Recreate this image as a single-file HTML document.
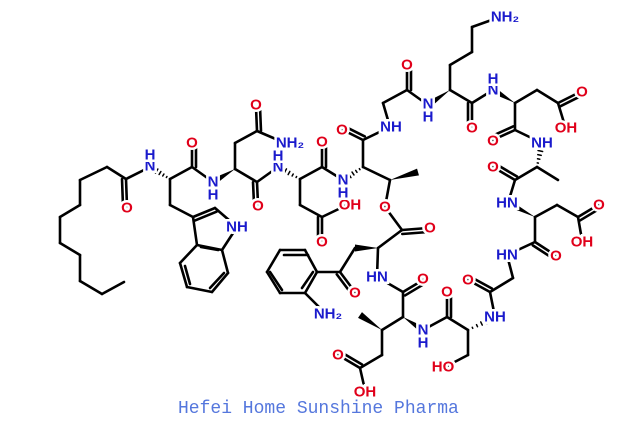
<!DOCTYPE html>
<html><head><meta charset="utf-8"><style>
html,body{margin:0;padding:0;background:#fff;width:641px;height:422px;overflow:hidden}
svg{display:block}
</style></head><body>
<svg id="s" width="641" height="422" viewBox="0 0 641 422" xmlns="http://www.w3.org/2000/svg">
<g id="b" stroke="#000" stroke-width="2.6" stroke-linecap="round" fill="none"></g>
<g id="l" font-family="Liberation Sans, sans-serif" font-weight="bold" font-size="15" text-anchor="middle" dominant-baseline="central" paint-order="stroke" stroke="#fff" stroke-width="5"></g>
<text x="178" y="413" font-family="Liberation Mono, monospace" font-size="18" fill="#5577dd">Hefei Home Sunshine Pharma</text>
</svg>
<script>
var B=document.getElementById('b'),L=document.getElementById('l'),NS='http://www.w3.org/2000/svg';
function ln(a,b,c,d){var e=document.createElementNS(NS,'line');e.setAttribute('x1',a);e.setAttribute('y1',b);e.setAttribute('x2',c);e.setAttribute('y2',d);B.appendChild(e);}
function s(p){for(var i=0;i<p.length-2;i+=2)ln(p[i],p[i+1],p[i+2],p[i+3]);}
function d(a,b,c,e){ln(a,b,c,e);var dx=c-a,dy=e-b,n=Math.hypot(dx,dy),ox=-dy/n*4,oy=dx/n*4;ln(a+ox,b+oy,c+ox,e+oy);}
function w(a,b,c,e){var dx=c-a,dy=e-b,n=Math.hypot(dx,dy),ox=-dy/n*3.5,oy=dx/n*3.5;var p=document.createElementNS(NS,'polygon');p.setAttribute('points',a+','+b+' '+(c+ox)+','+(e+oy)+' '+(c-ox)+','+(e-oy));p.setAttribute('fill','#000');p.setAttribute('stroke','none');B.appendChild(p);}
function h(a,b,c,e){var dx=c-a,dy=e-b,n=Math.hypot(dx,dy);for(var k=1;k<=5;k++){var t=k/6,ox=-dy/n*3.5*t,oy=dx/n*3.5*t,x=a+dx*t,y=b+dy*t;var el=document.createElementNS(NS,'line');el.setAttribute('x1',x+ox);el.setAttribute('y1',y+oy);el.setAttribute('x2',x-ox);el.setAttribute('y2',y-oy);el.setAttribute('stroke-width','1.5');B.appendChild(el);}}
function t(x,y,txt,c){var e=document.createElementNS(NS,'text');e.setAttribute('x',x);e.setAttribute('y',y);e.setAttribute('fill',c=='b'?'#1a1acc':'#e0001a');e.textContent=txt;L.appendChild(e);}
// decanoyl chain
s([124,282,102,294,80,281,80,255,60,243,60,217,80,205,80,180,107,167,126,179,150,167]);
d(126,179,127,206);
h(170,179,150,167);
s([170,179,192,167,213,182]);d(192,167,192,145);
// Trp side chain
s([170,179,170,205,193,217]);d(193,217,215,208);
s([215,208,237,227,222,250,197,245,193,217]);
s([197,245,180,263,187,287,212,292,228,273,222,250]);
ln(185,266,190,284);ln(210,288,224,273);ln(201,247,218,250);
// Asn
w(235,169,213,182);s([235,169,235,143,257,131,285,143]);d(257,131,256,107);
s([235,169,257,182,278,167]);d(257,182,258,204);
// Asp
h(300,179,278,167);s([300,179,322,167,343,180]);d(322,167,322,144);
s([300,179,300,205,322,217,347,205]);d(322,217,322,240);
// Thr
h(363,167,343,180);s([363,167,363,140,390,127,383,103,407,90,428,105]);
d(363,140,343,130);d(407,90,407,67);
s([363,167,390,180,385,207,402,230]);w(390,180,418,172);
d(402,230,428,228);
// Orn
w(450,90,428,105);s([450,90,450,65,472,52,472,27,500,17]);
s([450,90,472,103,493,90]);d(472,103,472,126);
// Asp2
w(515,103,493,90);s([515,103,537,90,558,103,565,126]);d(558,103,580,92);
s([515,103,515,130,542,143]);d(515,130,493,140);
// Ala
h(537,167,542,143);s([537,167,558,180]);s([537,167,515,180,508,203]);d(515,180,493,167);
// Asp3
w(535,217,508,203);s([535,217,557,205,578,217,582,240]);d(578,217,598,205);
s([535,217,535,242,507,255]);d(535,242,555,255);
// Gly
s([507,255,513,278,490,292,495,317]);d(490,292,468,280);
// Ser
h(468,330,495,317);s([468,330,468,355,445,367]);s([468,330,447,317,423,330]);d(447,317,447,294);
// MeGlu
w(403,317,423,330);s([403,317,382,330,382,355,360,368,365,390]);d(360,368,338,355);
w(382,330,360,315);s([403,317,403,292,377,277]);d(403,292,423,280);
// Kyn
s([377,277,378,248,402,230]);w(378,248,355,248);s([355,248,340,272,317,272]);d(340,272,355,292);
s([317,272,305,250,280,250,267,272,280,293,305,293,317,272]);
ln(308,255,284,255);ln(270,272,282,290);ln(302,288,313,272);
s([305,293,325,313]);
// labels
t(150,166,'N','b');t(150,155,'H','b');t(127,208,'O','r');
t(192,143,'O','r');t(213,182,'N','b');t(213,195,'H','b');
t(237,227,'NH','b');t(256,105,'O','r');t(290,143,'NH\u2082','b');
t(258,206,'O','r');t(278,167,'N','b');t(278,156,'H','b');
t(322,142,'O','r');t(322,242,'O','r');t(350,205,'OH','r');
t(343,180,'N','b');t(343,193,'H','b');t(342,130,'O','r');t(391,127,'NH','b');
t(407,65,'O','r');t(428,104,'N','b');t(428,117,'H','b');t(385,207,'O','r');t(430,228,'O','r');
t(505,17,'NH\u2082','b');t(472,128,'O','r');t(493,90,'N','b');t(493,79,'H','b');
t(582,92,'O','r');t(566,128,'OH','r');t(493,141,'O','r');t(542,143,'NH','b');
t(493,167,'O','r');t(507,203,'HN','b');t(599,205,'O','r');t(582,242,'OH','r');
t(507,255,'HN','b');t(556,256,'O','r');t(468,280,'O','r');t(495,317,'NH','b');
t(447,292,'O','r');t(443,367,'HO','r');t(423,330,'N','b');t(423,343,'H','b');
t(423,279,'O','r');t(377,277,'HN','b');t(338,355,'O','r');t(365,392,'OH','r');
t(355,293,'O','r');t(328,314,'NH\u2082','b');
</script>
</body></html>
